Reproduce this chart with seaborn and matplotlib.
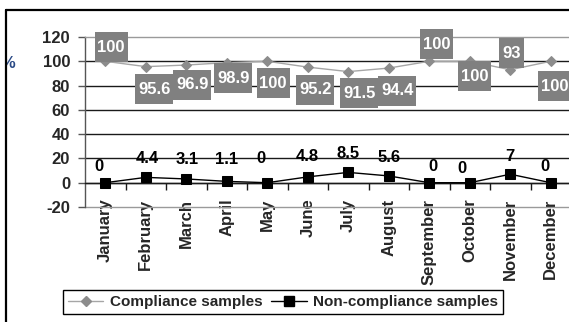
import matplotlib
matplotlib.use("Agg")
import matplotlib.pyplot as plt
import seaborn as sns
import numpy as np
from matplotlib.lines import Line2D
from matplotlib.patches import Rectangle
from matplotlib.transforms import IdentityTransform
from matplotlib.ticker import FixedLocator, NullFormatter, FixedFormatter

months = ["January", "February", "March", "April", "May", "June", "July",
          "August", "September", "October", "November", "December"]
compliance = [100, 95.6, 96.9, 98.9, 100, 95.2, 91.5, 94.4, 100, 100, 93, 100]
non_compliance = [0, 4.4, 3.1, 1.1, 0, 4.8, 8.5, 5.6, 0, 0, 7, 0]
series_names = ["Compliance samples", "Non-compliance samples"]
y_ticks = [-20, 0, 20, 40, 60, 80, 100, 120]

# label placement (pixel offsets from each point)
comp_offsets = [(6, 15.5), (8.5, -21), (6, -18), (6.5, -14), (6, -20.5), (7.5, -21),
                (11, -20), (8.5, -21), (7, 18.5), (4.5, -13.5), (1, 18), (3.5, -23.5)]
nonc_offsets = [(-6, 18), (1.5, 20.7), (1, 21), (0, 23.7), (-6, 26), (0, 22),
                (0, 20.7), (0, 20), (4, 18), (-7.5, 16), (0, 19.5), (-5.5, 18)]

sns.set_theme(style="white")
plt.rcParams["font.family"] = ["Liberation Sans", "DejaVu Sans"]
plt.rcParams["font.weight"] = "bold"

W, H = 569, 322
fig = plt.figure(figsize=(W / 100, H / 100), dpi=100)
ax = fig.add_axes([85 / W, (H - 207) / H, 486 / W, 170 / H])

x = np.arange(len(months))
sns.lineplot(x=x, y=compliance, ax=ax, color="#a6a6a6", linewidth=1.0,
             marker="D", markersize=5, markerfacecolor="#8c8c8c",
             markeredgecolor="#8c8c8c", label=series_names[0], zorder=3)
sns.lineplot(x=x, y=non_compliance, ax=ax, color="black", linewidth=1.0,
             marker="s", markersize=6.5, markerfacecolor="black",
             markeredgecolor="black", label=series_names[1], zorder=3)

ax.set_xlim(-0.5, len(months) - 0.5)
ax.set_ylim(y_ticks[0], y_ticks[-1])
ax.set_autoscale_on(False)

# horizontal gridlines
for v in y_ticks[1:-1]:
    ax.axhline(v, color="#1a1a1a", lw=1.0, zorder=1)
ax.axhline(y_ticks[0], color="#9a9a9a", lw=1.0, zorder=1, clip_on=False)

ax.spines["right"].set_visible(False)
ax.spines["top"].set_color("#9a9a9a")
ax.spines["top"].set_linewidth(1.0)
ax.spines["left"].set_color("#555555")
ax.spines["left"].set_linewidth(1.0)
ax.spines["bottom"].set_position(("data", 0))
ax.spines["bottom"].set_color("#1a1a1a")
ax.spines["bottom"].set_linewidth(1.0)

ax.set_yticks(y_ticks)
ax.set_yticklabels([str(v) for v in y_ticks])
ax.tick_params(axis="y", direction="out", length=5, width=1, color="#555555",
               pad=5.8, labelsize=12, left=True)

ax.xaxis.set_major_locator(FixedLocator(np.arange(0.5, len(months) - 1, 1.0)))
ax.xaxis.set_major_formatter(NullFormatter())
ax.xaxis.set_minor_locator(FixedLocator(x))
ax.xaxis.set_minor_formatter(FixedFormatter(months))
ax.tick_params(axis="x", which="major", direction="out", length=5, width=1,
               color="#1a1a1a", bottom=True)
ax.tick_params(axis="x", which="minor", length=0, pad=11.5, labelsize=12,
               labelrotation=90, bottom=True)
for lab in ax.xaxis.get_minorticklabels():
    lab.set_fontweight("bold")
for lab in ax.get_yticklabels():
    lab.set_fontweight("bold")
ax.set_xlabel("")
ax.set_ylabel("")

px = 0.72
comp_texts = []
for i, v in enumerate(compliance):
    dx, dy = comp_offsets[i]
    t = ax.annotate(f"{v:g}", xy=(i, v), xytext=(dx * px, dy * px),
                    textcoords="offset points", ha="center", va="center_baseline",
                    color="white", fontsize=12, fontweight="bold", zorder=6,
                    annotation_clip=False)
    comp_texts.append(t)
for i, v in enumerate(non_compliance):
    dx, dy = nonc_offsets[i]
    ax.annotate(f"{v:g}", xy=(i, v), xytext=(dx * px, dy * px),
                textcoords="offset points", ha="center", va="center_baseline",
                color="black", fontsize=12, fontweight="bold", zorder=5,
                annotation_clip=False)

ax.get_legend().remove()
handles = [Line2D([], [], color="#a6a6a6", lw=1.0, marker="D", markersize=5,
                  markerfacecolor="#8c8c8c", markeredgecolor="#8c8c8c"),
           Line2D([], [], color="black", lw=1.0, marker="s", markersize=6.5,
                  markerfacecolor="black", markeredgecolor="black")]
leg = fig.legend(handles, series_names, loc="center",
                 bbox_to_anchor=(283 / W, 1 - 302 / H), ncol=2,
                 frameon=True, fancybox=False, edgecolor="black",
                 prop={"size": 11, "weight": "bold"}, handlelength=2.3,
                 columnspacing=0.6, handletextpad=0.4, borderpad=0.35,
                 framealpha=1)
leg.get_frame().set_linewidth(1.0)

# gray boxes behind the compliance value labels
fig.canvas.draw()
renderer = fig.canvas.get_renderer()
for t in comp_texts:
    bb = t.get_window_extent(renderer)
    cx = (bb.x0 + bb.x1) / 2
    cy = (bb.y0 + bb.y1) / 2
    w = bb.width + 6
    h = 30
    ax.add_artist(Rectangle((cx - w / 2, cy - h / 2), w, h,
                            transform=IdentityTransform(), facecolor="#808080",
                            edgecolor="none", zorder=4, clip_on=False))

# axis unit, partly hidden behind the outer frame
fig.text(8 / W, 1 - 64 / H, "%", ha="center", va="center", color="#2a4a86",
         fontsize=12, fontweight="bold")
fig.add_artist(Rectangle((0, 0), 6 / W, 1, transform=fig.transFigure,
                         facecolor="white", edgecolor="none", zorder=10))
fig.add_artist(Line2D([6 / W, 6 / W], [0, 1 - 10 / H], transform=fig.transFigure,
                      color="black", lw=1.6, zorder=11))
fig.add_artist(Line2D([6 / W, 1], [1 - 10 / H, 1 - 10 / H], transform=fig.transFigure,
                      color="black", lw=1.6, zorder=11))

fig.savefig("out.png", dpi=100)
